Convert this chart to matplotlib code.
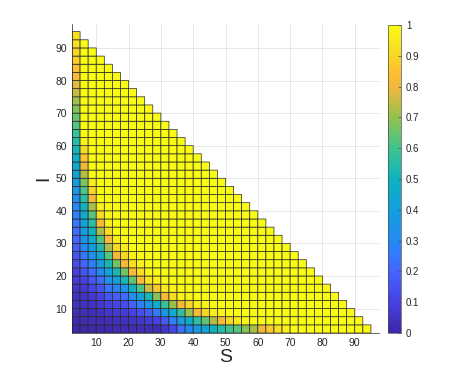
import numpy as np
import matplotlib
matplotlib.use("Agg")
import matplotlib.pyplot as plt
from matplotlib.colors import LinearSegmentedColormap

# cell edges (S and I), 2.5 steps
s_edges = np.arange(2.5, 100, 2.5)
i_edges = np.arange(2.5, 100, 2.5)
s_plus_i_max = 95.0   # cells exist only where S + I <= 95

# values in percent, one list per S column, from I = 2.5 upward;
# above the end of each list the cells read as saturated (1.0)
p_cols = [
    [1, 2, 3, 4, 5, 6, 8, 10, 13, 15, 18, 20, 22, 25, 27, 30, 32, 35, 38, 42,
     45, 48, 52, 55, 58, 62, 65, 68, 71, 75, 78, 82, 85, 88, 90, 92, 93],
    [1, 2, 3, 4, 5, 7, 10, 15, 20, 25, 30, 34, 38, 42, 46, 51, 56, 61, 67, 73,
     80, 86, 92, 97],
    [1, 2, 3, 5, 7, 11, 16, 22, 28, 34, 40, 45, 50, 56, 63, 72, 82, 90, 96],
    [1, 2, 4, 6, 10, 15, 22, 30, 38, 45, 53, 62, 72, 82, 92, 97],
    [1, 3, 6, 10, 16, 24, 33, 42, 52, 62, 72, 82, 92, 97],
    [2, 4, 7, 11, 18, 28, 40, 52, 66, 80, 90, 96],
    [2, 4, 8, 13, 22, 35, 52, 66, 82, 90, 96],
    [2, 5, 10, 19, 32, 48, 64, 82, 92, 97],
    [3, 6, 14, 27, 42, 62, 82, 92, 97],
    [3, 8, 18, 36, 52, 76, 93, 98],
    [3, 10, 26, 47, 68, 87, 97],
    [6, 17, 36, 58, 81, 95, 99],
    [12, 27, 46, 70, 92, 98],
    [22, 37, 57, 81, 97],
    [30, 47, 70, 90, 98],
    [38, 57, 81, 96],
    [44, 64, 90, 98],
    [50, 73, 96],
    [55, 82, 98],
    [60, 90],
    [63, 95],
    [68, 98],
    [72],
    [80],
    [87],
    [93],
    [97],
]

# parula-like colormap
parula_pts = [
    (0.00, (0.2422, 0.1504, 0.6603)),
    (0.10, (0.2781, 0.2543, 0.8973)),
    (0.20, (0.2670, 0.3973, 0.9924)),
    (0.25, (0.2066, 0.4743, 0.9926)),
    (0.30, (0.1400, 0.5400, 0.9500)),
    (0.40, (0.0800, 0.6200, 0.8700)),
    (0.50, (0.0500, 0.7000, 0.7500)),
    (0.60, (0.2500, 0.7700, 0.5600)),
    (0.70, (0.5800, 0.7600, 0.3000)),
    (0.80, (0.9500, 0.7200, 0.2400)),
    (0.85, (0.9900, 0.7500, 0.2000)),
    (0.90, (0.9700, 0.8400, 0.1500)),
    (1.00, (0.9769, 0.9839, 0.0805)),
]
parula = LinearSegmentedColormap.from_list("parula", parula_pts)

n = len(s_edges) - 1
C = np.ones((n, n))
for k, col in enumerate(p_cols):
    C[:len(col), k] = np.array(col) / 100.0
ss, ii = np.meshgrid(s_edges[:-1], i_edges[:-1])
C = np.ma.masked_where(ss + ii > s_plus_i_max, C)

plt.rcParams["font.family"] = ["Liberation Sans", "DejaVu Sans"]
fig = plt.figure(figsize=(4.55, 3.70), dpi=100)
ax = fig.add_axes([72 / 455, 37 / 370, 307 / 455, 309.5 / 370])

ax.set_axisbelow(True)
ax.grid(True, color="0.15", alpha=0.12, lw=0.6)
# pcolor (not pcolormesh) so masked cells are left out entirely
mesh = ax.pcolor(s_edges, i_edges, C, cmap=parula, vmin=0, vmax=1,
                 edgecolors="0.15", linewidth=0.5)
ax.set_xlim(2.5, 97.5)
ax.set_ylim(2.5, 97.5)
ax.set_xticks(np.arange(10, 100, 10))
ax.set_yticks(np.arange(10, 100, 10))
ax.tick_params(direction="in", length=3, width=0.5, color="0.15",
               labelsize=7.5, labelcolor="0.15")
for side in ["top", "right"]:
    ax.spines[side].set_visible(False)
for side in ["left", "bottom"]:
    ax.spines[side].set_color("0.15")
    ax.spines[side].set_linewidth(0.5)
ax.set_xlabel("S", fontsize=14, color="0.15", labelpad=1)
ax.set_ylabel("I", fontsize=14, color="0.15", labelpad=2)

cax = fig.add_axes([387.5 / 455, 37 / 370, 13.5 / 455, 308 / 370])
cb = fig.colorbar(mesh, cax=cax, ticks=np.arange(0, 1.01, 0.1))
cb.ax.set_yticklabels(["0", "0.1", "0.2", "0.3", "0.4", "0.5", "0.6",
                       "0.7", "0.8", "0.9", "1"])
cb.ax.tick_params(direction="in", length=2.5, width=0.5, color="0.3",
                  labelsize=7, labelcolor="0.15")
cb.outline.set_linewidth(0.5)
cb.outline.set_edgecolor("0.3")

fig.savefig("out.png", dpi=100)
